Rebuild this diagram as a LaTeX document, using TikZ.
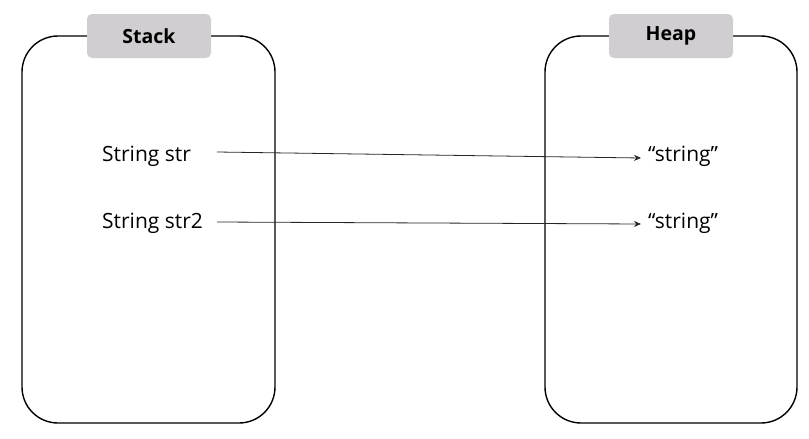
\documentclass[tikz,border=0pt]{standalone}
\usepackage{fontspec}
\setmainfont{Open Sans}
\usetikzlibrary{arrows.meta}
\definecolor{labelgray}{HTML}{D0CED0}
\begin{document}
\begin{tikzpicture}[x=1pt,y=-1pt,
  region/.style={draw=black,line width=1.4pt,rounded corners=36pt},
  tag/.style={fill=labelgray,rounded corners=5pt,minimum width=124pt,minimum height=44pt,inner sep=0pt,font=\fontsize{19.5}{22}\selectfont\bfseries},
  item/.style={inner sep=0pt,anchor=west,font=\fontsize{21}{24}\selectfont},
  ref/.style={draw=black!85,line width=0.8pt,-{Stealth[length=7pt,width=6pt]}}]
\useasboundingbox (0,0) rectangle (809,439);
\draw[region] (22,36) rectangle (275,423);
\draw[region] (545,36) rectangle (797,423);
\node[tag] (stack) at (149,36) {Stack};
\node[tag] (heap) at (671,36) {Heap};
\node[item] (s1) at (102,156) {String str};
\node[item] (s2) at (102,223) {String str2};
\node[item] (h1) at (648,156) {“string”};
\node[item] (h2) at (648,223) {“string”};
\coordinate (a1) at (217,152);
\coordinate (a2) at (217,222);
\draw[ref] (a1) -- ([xshift=-7pt,yshift=-2pt]h1.west);
\draw[ref] (a2) -- ([xshift=-7pt,yshift=-1pt]h2.west);
\end{tikzpicture}
\end{document}
